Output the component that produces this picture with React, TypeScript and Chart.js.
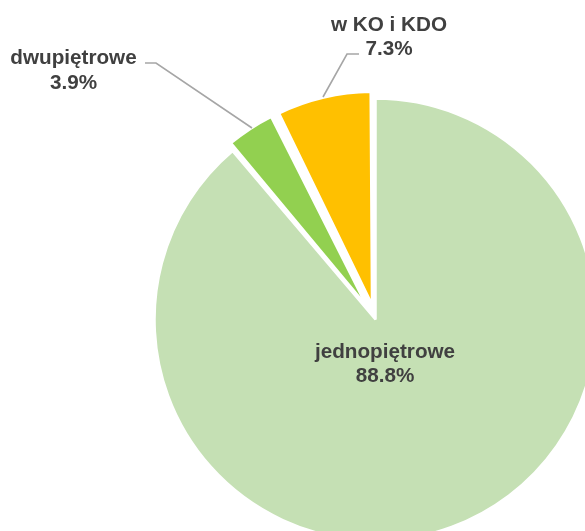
import React, { useEffect, useRef } from "react";
import { Chart, registerables } from "chart.js";

Chart.register(...registerables);

// ---- data ----
const categories: string[] = ["jednopiętrowe", "dwupiętrowe", "w KO i KDO"];
const shares: number[] = [88.8, 3.9, 7.3];
const percentLabels: string[] = ["88.8%", "3.9%", "7.3%"];

// ---- styles / layout ----
const sliceColors = ["#C5E0B4", "#92D050", "#FFC000"];
const sliceOffsets = [0, 64, 61];
const sliceRadiusTrim = [0, 21, 16.7];
const pieRadius = 221;
const textColor = "#404040";
const leaderColor = "#A6A6A6";
const labelFont = "bold 20.7px 'Liberation Sans', Arial, sans-serif";
const lineGap = 24.7;

type Pt = [number, number];
const labelLayout: { x: number; y: number; line: Pt[] | null }[] = [
  { x: 385, y: 357.7, line: null },
  { x: 73.5, y: 64.3, line: [[145, 63], [156, 63], [252, 128]] },
  { x: 389, y: 30.7, line: [[359, 54], [347, 54], [323, 97]] },
];

const labelPlugin = {
  id: "sliceLabels",
  afterDatasetsUpdate(chart: any) {
    const meta = chart.getDatasetMeta(0);
    meta.data.forEach((arc: any, i: number) => {
      arc.outerRadius = Math.max(arc.outerRadius - (sliceRadiusTrim[i] || 0), 0);
    });
  },
  afterDraw(chart: any) {
    const ctx: CanvasRenderingContext2D = chart.ctx;
    ctx.save();
    // leader lines
    ctx.strokeStyle = leaderColor;
    ctx.lineWidth = 1.6;
    labelLayout.forEach((l) => {
      if (!l.line) return;
      ctx.beginPath();
      l.line.forEach((p, k) => (k === 0 ? ctx.moveTo(p[0], p[1]) : ctx.lineTo(p[0], p[1])));
      ctx.stroke();
    });
    // texts
    ctx.font = labelFont;
    ctx.fillStyle = textColor;
    ctx.textAlign = "center";
    ctx.textBaseline = "alphabetic";
    categories.forEach((c, i) => {
      const l = labelLayout[i];
      ctx.fillText(c, l.x, l.y);
      ctx.fillText(percentLabels[i], l.x, l.y + lineGap);
    });
    ctx.restore();
  },
};

export default function App() {
  const canvasRef = useRef<HTMLCanvasElement | null>(null);

  useEffect(() => {
    if (!canvasRef.current) return;
    const chart = new Chart(canvasRef.current, {
      type: "pie",
      data: {
        labels: categories,
        datasets: [
          {
            data: shares,
            backgroundColor: sliceColors,
            borderColor: "#FFFFFF",
            borderWidth: 2.5,
            offset: sliceOffsets,
          } as any,
        ],
      },
      options: {
        animation: false,
        responsive: true,
        maintainAspectRatio: false,
        radius: pieRadius,
        layout: { padding: { left: 166, right: 0, top: 108, bottom: 0 } },
        plugins: {
          legend: { display: false },
          tooltip: { enabled: false },
        },
        events: [],
      } as any,
      plugins: [labelPlugin],
    });
    return () => chart.destroy();
  }, []);

  return (
    <div style={{ position: "absolute", left: 0, top: 0, width: 585, height: 531, background: "#FFFFFF" }}>
      <canvas ref={canvasRef} />
    </div>
  );
}
